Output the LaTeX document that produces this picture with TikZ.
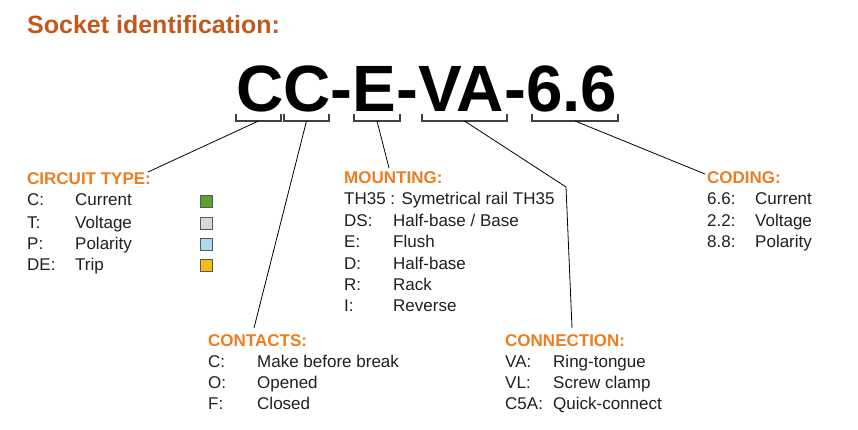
\documentclass[tikz,border=0pt]{standalone}
\usepackage{fontspec}
\setmainfont{Liberation Sans}
\definecolor{titlec}{RGB}{194,88,30}
\definecolor{headc}{RGB}{236,126,32}
\definecolor{swgreen}{RGB}{92,160,50}
\definecolor{swgrey}{RGB}{216,216,216}
\definecolor{swblue}{RGB}{170,218,240}
\definecolor{sworange}{RGB}{246,186,20}
\begin{document}
\begin{tikzpicture}[x=1pt,y=-1pt,
  txt/.style={anchor=base west, inner sep=0pt, font=\fontsize{17}{20}\selectfont, text=black!88},
  head/.style={anchor=base west, inner sep=0pt, font=\fontsize{17}{20}\selectfont\bfseries, text=headc},
  swatch/.style={draw=black!65, line width=0.9pt, minimum size=12pt, inner sep=0pt},
  brk/.style={draw=black!75, line width=1.1pt},
  conn/.style={draw=black, line width=0.8pt}]
\useasboundingbox (0,0) rectangle (858,430);
% title
\node[anchor=base west, inner sep=0pt, font=\fontsize{25}{28}\selectfont\bfseries, text=titlec] (title) at (27,34) {Socket identification:};
% code
\node[anchor=base west, inner sep=0pt, font=\fontsize{65.5}{70}\selectfont\bfseries] (code) at (236,112) {CC-E-VA-6.6};
% brackets
\draw[brk] (236,114) |- (281,121) coordinate[pos=0.75] (b1) -- (281,114);
\draw[brk] (284,114) |- (329,121) coordinate[pos=0.75] (b2) -- (329,114);
\draw[brk] (354,114) |- (400,121) coordinate[pos=0.75] (b3) -- (400,114);
\draw[brk] (422,114) |- (507,121) coordinate[pos=0.75] (b4) -- (507,114);
\draw[brk] (532,114) |- (618,121) coordinate[pos=0.75] (b5) -- (618,114);
% circuit type
\node[head] (ct) at (27,185) {CIRCUIT TYPE:};
\node[txt] (ct1a) at (27,206) {C:};  \node[txt] (ct1b) at (75,206) {Current};
\node[txt] (ct2a) at (27,228) {T:};  \node[txt] (ct2b) at (75,228) {Voltage};
\node[txt] (ct3a) at (27,249) {P:};  \node[txt] (ct3b) at (75,249) {Polarity};
\node[txt] (ct4a) at (27,270) {DE:}; \node[txt] (ct4b) at (75,270) {Trip};
\node[swatch, fill=swgreen] (sw1) at (206,201.5) {};
\node[swatch, fill=swgrey] (sw2) at (206,223) {};
\node[swatch, fill=swblue] (sw3) at (206,244.5) {};
\node[swatch, fill=sworange] (sw4) at (206,265.5) {};
% mounting
\node[head] (mt) at (344,184) {MOUNTING:};
\node[txt] (mt1) at (344,205) {TH35 : Symetrical rail TH35};
\node[txt] (mt2a) at (344,226) {DS:}; \node[txt] (mt2b) at (393,226) {Half-base / Base};
\node[txt] (mt3a) at (344,247) {E:};  \node[txt] (mt3b) at (393,247) {Flush};
\node[txt] (mt4a) at (344,269) {D:};  \node[txt] (mt4b) at (393,269) {Half-base};
\node[txt] (mt5a) at (344,290) {R:};  \node[txt] (mt5b) at (393,290) {Rack};
\node[txt] (mt6a) at (344,311) {I:};  \node[txt] (mt6b) at (393,311) {Reverse};
% coding
\node[head] (cd) at (707,184) {CODING:};
\node[txt] (cd1a) at (707,205) {6.6:}; \node[txt] (cd1b) at (755,205) {Current};
\node[txt] (cd2a) at (707,226) {2.2:}; \node[txt] (cd2b) at (755,226) {Voltage};
\node[txt] (cd3a) at (707,247) {8.8:}; \node[txt] (cd3b) at (755,247) {Polarity};
% contacts
\node[head] (co) at (208,346) {CONTACTS:};
\node[txt] (co1a) at (208,367) {C:}; \node[txt] (co1b) at (257,367) {Make before break};
\node[txt] (co2a) at (208,388) {O:}; \node[txt] (co2b) at (257,388) {Opened};
\node[txt] (co3a) at (208,409) {F:}; \node[txt] (co3b) at (257,409) {Closed};
% connection
\node[head] (cn) at (505,346) {CONNECTION:};
\node[txt] (cn1a) at (505,367) {VA:};  \node[txt] (cn1b) at (553,367) {Ring-tongue};
\node[txt] (cn2a) at (505,388) {VL:};  \node[txt] (cn2b) at (553,388) {Screw clamp};
\node[txt] (cn3a) at (505,409) {C5A:}; \node[txt] (cn3b) at (553,409) {Quick-connect};
% connector ends
\coordinate (e1) at (148,172);
\coordinate (e2) at (254,328);
\coordinate (e3) at (389,168);
\coordinate (k4) at (566,187);
\coordinate (e4) at (572,328);
\coordinate (e5) at (705,174);
\draw[conn] (b1) -- (e1);
\draw[conn] (b2) -- (e2);
\draw[conn] (b3) -- (e3);
\draw[conn] (b4) -- (k4) -- (e4);
\draw[conn] (b5) -- (e5);
\end{tikzpicture}
\end{document}
